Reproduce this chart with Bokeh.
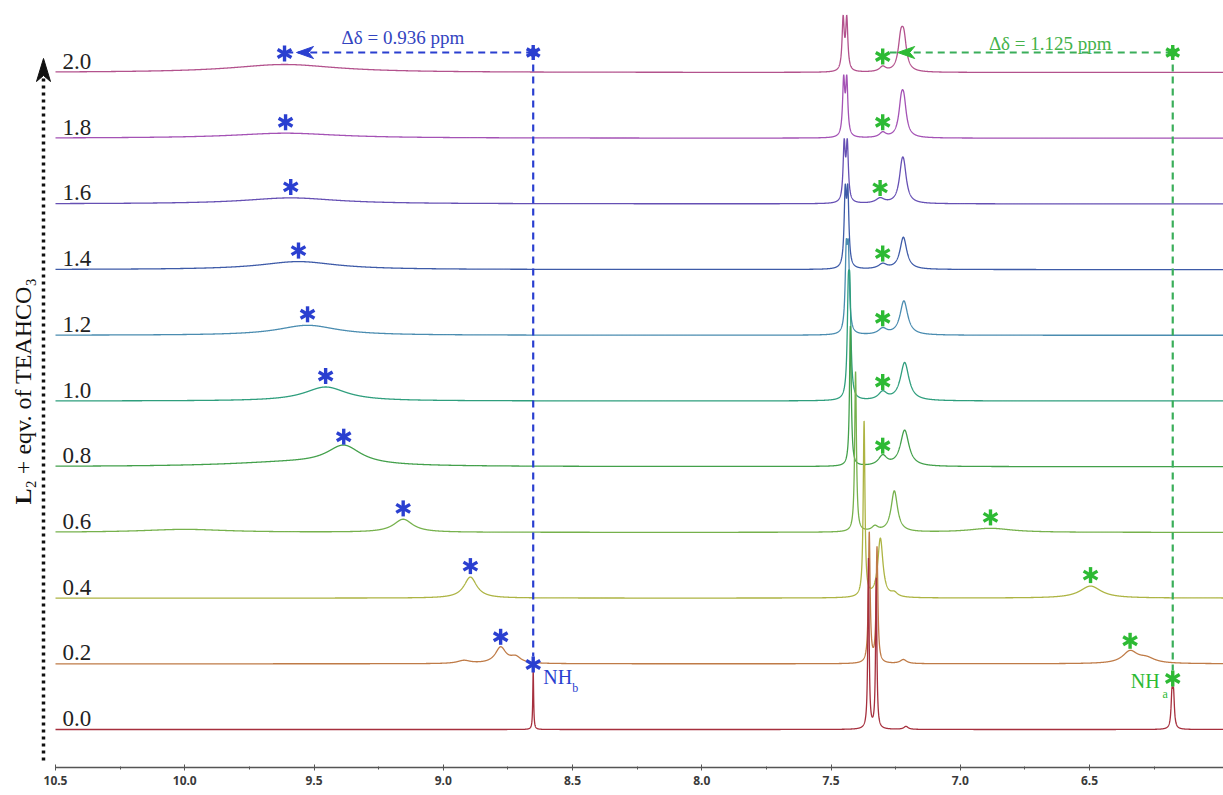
import numpy as np
from bokeh.plotting import figure
from bokeh.models import Range1d, FixedTicker, Label
from bokeh.embed import file_html
from bokeh.resources import INLINE
from bokeh.core.properties import value

# ---------------- data ----------------
equiv = [0.0, 0.2, 0.4, 0.6, 0.8, 1.0, 1.2, 1.4, 1.6, 1.8, 2.0]
equiv_labels = ["0.0", "0.2", "0.4", "0.6", "0.8", "1.0", "1.2", "1.4", "1.6", "1.8", "2.0"]
line_colors = ["#A62F3D", "#BF7B47", "#ADB443", "#76B14C", "#43A04B", "#2E9E7D",
               "#4A8CB0", "#3E5BA8", "#6650B4", "#A452B5", "#B3528D"]

# NH_b signal (ppm, height in px of the stacked plot, half width ppm)
nhb_ppm = [8.652, 8.778, 8.895, 9.155, 9.385, 9.455, 9.525, 9.560, 9.590, 9.610, 9.614]
nhb_height = [59, 16, 21, 13, 19, 14, 10, 8, 6, 5, 8]
nhb_hwhm = [0.002, 0.025, 0.03, 0.045, 0.08, 0.10, 0.14, 0.18, 0.22, 0.25, 0.25]

# NH_a signal
nha_ppm = [6.178, 6.343, 6.496, 6.883, 7.300, 7.300, 7.300, 7.300, 7.310, 7.300, 7.300]
nha_height = [42, 12, 12, 4, 10, 8, 6, 5, 5, 5, 5]
nha_hwhm = [0.004, 0.035, 0.05, 0.10, 0.02, 0.02, 0.02, 0.02, 0.02, 0.015, 0.015]
nha_split = [0.006, 0, 0, 0, 0, 0, 0, 0, 0, 0, 0]

# aromatic CH signals
arA_ppm = [7.355, 7.352, 7.372, 7.405, 7.425, 7.430, 7.437, 7.440, 7.443, 7.445, 7.446]
arA_height = [170, 130, 175, 160, 140, 125, 95, 85, 65, 63, 57]
arA_hwhm = [0.003, 0.004, 0.004, 0.004, 0.004, 0.005, 0.005, 0.005, 0.005, 0.005, 0.005]
arA_split = [0, 0, 0, 0, 0, 0.006, 0.008, 0.010, 0.012, 0.012, 0.014]
arB_ppm = [7.325, 7.322, 7.309, 7.255, 7.215, 7.215, 7.218, 7.220, 7.222, 7.223, 7.224]
arB_height = [150, 115, 59, 41, 36, 38, 34, 32, 44, 45, 43]
arB_hwhm = [0.003, 0.004, 0.012, 0.015, 0.02, 0.02, 0.018, 0.016, 0.013, 0.012, 0.012]
arB_split = [0, 0, 0, 0, 0, 0, 0, 0, 0.008, 0.010, 0.012]

# minor features: spectrum index, ppm, height, half width
minor_idx = [0, 1, 1, 1, 1, 2, 3, 3, 4]
minor_ppm = [7.21, 8.92, 8.72, 6.28, 7.22, 7.255, 10.0, 7.33, 9.60]
minor_height = [3, 3, 6, 5, 4, 4, 3, 5, 4]
minor_hwhm = [0.01, 0.03, 0.025, 0.04, 0.015, 0.015, 0.2, 0.015, 0.3]

x_ticks = [10.5, 10.0, 9.5, 9.0, 8.5, 8.0, 7.5, 7.0, 6.5]
x_tick_labels = ["10.5", "10.0", "9.5", "9.0", "8.5", "8.0", "7.5", "7.0", "6.5"]
x_minor = [10.25, 9.75, 9.25, 8.75, 8.25, 7.75, 7.25, 6.75, 6.25]
delta_b_text = "Δδ = 0.936 ppm"
delta_a_text = "Δδ = 1.125 ppm"
ylabel_bold = "L"
ylabel_rest = "₂ + eqv. of TEAHCO₃"
unit_text = "ppm"

# ---------------- layout helpers ----------------
W, H = 1223, 795
BORDER_B = 28
PX_PER_PPM = 258.5
X0_REF, PPM0 = 55.0, 10.5
FRAME_BOTTOM_REF = H - BORDER_B


def ppm_at(xref):
    return PPM0 - (xref - X0_REF) / PX_PER_PPM


def dppm(px):
    return px / PX_PER_PPM


def Y(yref):
    return FRAME_BOTTOM_REF - yref


STACK_PX_PER_EQ = 328.5
BASE0_REF = 729.0


def base_y(e):
    return Y(BASE0_REF - e * STACK_PX_PER_EQ)


def lor(x, x0, h, w):
    return h / (1.0 + ((x - x0) / w) ** 2)


def peak(x, x0, h, w, split=0.0):
    if split <= 0:
        return lor(x, x0, h, w)
    he = h / (1.0 + 1.0 / (1.0 + (split / w) ** 2))
    return lor(x, x0 - split / 2, he, w) + lor(x, x0 + split / 2, he, w)


x_left, x_right = ppm_at(0), ppm_at(W)

centers = []
for arr_p, arr_s in [(nhb_ppm, None), (nha_ppm, nha_split), (arA_ppm, arA_split), (arB_ppm, arB_split)]:
    for i, c in enumerate(arr_p):
        centers.append(c)
        if arr_s is not None and arr_s[i] > 0:
            centers += [c - arr_s[i] / 2, c + arr_s[i] / 2]
grid = np.unique(np.concatenate([np.linspace(x_right, x_ticks[0], 9000), np.array(centers)]))[::-1]

p = figure(width=W, height=H, output_backend="svg", toolbar_location=None,
           x_range=Range1d(x_left, x_right), y_range=Range1d(0, Y(0)),
           y_axis_location=None, min_border_left=0, min_border_right=0,
           min_border_top=0, min_border_bottom=BORDER_B)
p.outline_line_color = None
p.xgrid.visible = False
p.ygrid.visible = False
p.background_fill_color = "white"

# spectra, top first so lower spectra are drawn over
for i in range(len(equiv) - 1, -1, -1):
    s = np.zeros_like(grid)
    s += peak(grid, nhb_ppm[i], nhb_height[i], nhb_hwhm[i])
    s += peak(grid, nha_ppm[i], nha_height[i], nha_hwhm[i], nha_split[i])
    s += peak(grid, arA_ppm[i], arA_height[i], arA_hwhm[i], arA_split[i])
    s += peak(grid, arB_ppm[i], arB_height[i], arB_hwhm[i], arB_split[i])
    for k, idx in enumerate(minor_idx):
        if idx == i:
            s += peak(grid, minor_ppm[k], minor_height[k], minor_hwhm[k])
    p.line(grid, base_y(equiv[i]) + s, line_color=line_colors[i], line_width=1.3)

# stack labels
p.text(x=[ppm_at(62)] * len(equiv), y=[base_y(e) + 11 for e in equiv], text=equiv_labels,
       text_font=value("Liberation Serif"), text_font_size="23px", text_color="#222222",
       text_align="left", text_baseline="middle")

BLUE = "#2A3FD0"
GREEN = "#2DBA34"
GREEN_LINE = "#3AAE5A"


def asterisk(xs, ys, color, size=16):
    for ang in (np.pi / 2, np.pi / 6, -np.pi / 6):
        p.scatter(xs, ys, marker="dash", size=size, angle=ang, line_color=color,
                  line_width=3.4)


ast_off = 11
blue_x = list(nhb_ppm)
blue_y = [base_y(equiv[i]) + nhb_height[i] + ast_off for i in range(len(equiv))]
blue_y[0] = base_y(equiv[0]) + nhb_height[0] + 6
green_x = list(nha_ppm)
green_y = [base_y(equiv[i]) + nha_height[i] + ast_off for i in range(len(equiv))]
green_y[0] = base_y(equiv[0]) + nha_height[0] + 9
asterisk(blue_x, blue_y, BLUE)
asterisk(green_x, green_y, GREEN)

arrow_y = blue_y[-1] + 1

# blue arrow (NH_b shift)
xb0 = nhb_ppm[0]
tip_b = nhb_ppm[-1] - dppm(12)
p.line([xb0, tip_b + dppm(10)], [arrow_y, arrow_y], line_color=BLUE, line_width=2, line_dash="7 5")
p.line([xb0, xb0], [arrow_y, blue_y[0] + 8], line_color=BLUE, line_width=2.2, line_dash="7 5")
p.patch([tip_b, tip_b - dppm(17), tip_b - dppm(12), tip_b - dppm(17)],
        [arrow_y, arrow_y + 6, arrow_y, arrow_y - 6], color=BLUE)
asterisk([xb0], [arrow_y], BLUE, size=15)
p.scatter([xb0], [arrow_y], marker="circle", size=8, color=BLUE)
p.text(x=[(xb0 + tip_b) / 2 + dppm(12)], y=[arrow_y + 15], text=[delta_b_text],
       text_font=value("Liberation Serif"), text_font_size="19px", text_color="#3344C0",
       text_align="center", text_baseline="middle")

# green arrow (NH_a shift)
xa0 = nha_ppm[0]
tip_a = nha_ppm[-1] - dppm(15)
p.line([xa0, tip_a + dppm(10)], [arrow_y, arrow_y], line_color=GREEN_LINE, line_width=2, line_dash="7 5")
p.line([xa0, xa0], [arrow_y, green_y[0] + 8], line_color=GREEN_LINE, line_width=2.2, line_dash="7 5")
p.patch([tip_a, tip_a - dppm(17), tip_a - dppm(12), tip_a - dppm(17)],
        [arrow_y, arrow_y + 6, arrow_y, arrow_y - 6], color=GREEN)
asterisk([xa0], [arrow_y], GREEN, size=15)
p.scatter([xa0], [arrow_y], marker="circle", size=8, color=GREEN)
p.text(x=[(xa0 + tip_a) / 2 - dppm(15)], y=[arrow_y + 9], text=[delta_a_text],
       text_font=value("Liberation Serif"), text_font_size="19px", text_color="#44B24A",
       text_align="center", text_baseline="middle")

# NH labels
p.text(x=[xb0 - dppm(10)], y=[blue_y[0] - 12], text=["NH"], text_font=value("Liberation Serif"),
       text_font_size="20px", text_color=BLUE, text_align="left", text_baseline="middle")
p.text(x=[xb0 - dppm(39)], y=[blue_y[0] - 23], text=["b"], text_font=value("Liberation Serif"),
       text_font_size="12px", text_color=BLUE, text_align="left", text_baseline="middle")
p.text(x=[xa0 + dppm(13)], y=[green_y[0] - 2], text=["NH"], text_font=value("Liberation Serif"),
       text_font_size="20px", text_color=GREEN, text_align="right", text_baseline="middle")
p.text(x=[xa0 + dppm(5)], y=[green_y[0] - 15], text=["a"], text_font=value("Liberation Serif"),
       text_font_size="12px", text_color=GREEN, text_align="right", text_baseline="middle")

# y label with dotted arrow
ax_x = ppm_at(43)
p.line([ax_x, ax_x], [Y(760), Y(78)], line_color="#111111", line_width=3.5, line_dash="3 4")
p.patch([ax_x, ax_x + dppm(7), ax_x, ax_x - dppm(7)], [Y(58), Y(81), Y(75), Y(81)], color="#111111")
p.text(x=[ppm_at(22)], y=[Y(504)], text=[ylabel_bold], angle=np.pi / 2,
       text_font=value("Liberation Serif"), text_font_size="24px", text_font_style="bold",
       text_color="#111111", text_align="left", text_baseline="middle")
p.text(x=[ppm_at(22)], y=[Y(504) + 16], text=[ylabel_rest], angle=np.pi / 2,
       text_font=value("Liberation Serif"), text_font_size="24px",
       text_color="#111111", text_align="left", text_baseline="middle")

# x axis
ax = p.xaxis[0]
ax.ticker = FixedTicker(ticks=x_ticks, minor_ticks=x_minor)
ax.major_label_overrides = {t: lab for t, lab in zip(x_ticks, x_tick_labels)}
ax.bounds = (5.9, 10.5)
ax.axis_line_color = "#555555"
ax.axis_line_width = 1.5
ax.major_tick_line_color = "#555555"
ax.major_tick_in = 3
ax.major_tick_out = 3
ax.minor_tick_line_color = "#555555"
ax.minor_tick_in = 1
ax.minor_tick_out = 2
ax.major_label_standoff = 5
ax.major_label_text_font = "Noto Sans"
ax.major_label_text_font_size = "12px"
ax.major_label_text_font_style = "bold"
ax.major_label_text_color = "#3a3a3a"

p.add_layout(Label(x=ppm_at(1206), y=Y(785), text=unit_text, text_align="center",
                   text_baseline="middle", text_font="Noto Sans", text_font_size="12px",
                   text_font_style="bold", text_color="#3a3a3a"))

open("out.html", "w").write(file_html(p, INLINE))
